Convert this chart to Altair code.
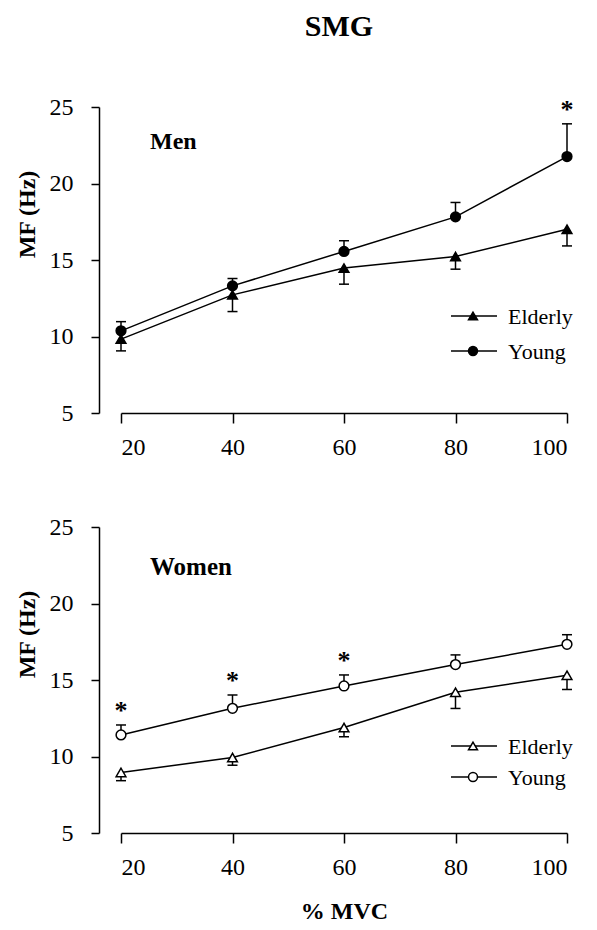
import altair as alt
import pandas as pd

# ---- data ----
mvc = [20, 40, 60, 80, 100]
groups = ["Elderly", "Young"]

men_elderly = [9.83, 12.72, 14.47, 15.23, 17.01]
men_elderly_err = [0.77, 1.09, 1.05, 0.83, 1.09]
men_young = [10.37, 13.31, 15.56, 17.82, 21.76]
men_young_err = [0.60, 0.48, 0.70, 0.94, 2.14]
men_sig = [False, False, False, False, True]

women_elderly = [8.96, 9.93, 11.89, 14.20, 15.31]
women_elderly_err = [0.54, 0.50, 0.60, 1.06, 0.93]
women_young = [11.41, 13.15, 14.61, 16.01, 17.33]
women_young_err = [0.65, 0.87, 0.72, 0.63, 0.63]
women_sig = [True, True, True, False, False]

y_ticks = [5, 10, 15, 20, 25]
panel_labels = ["Men", "Women"]

FONT = "Liberation Serif"
W, H = 446, 306
LW = 1.5


def panel(ey, ee, yy, ye, sig, label, fill, x_title):
    df = pd.DataFrame({
        "x": mvc + mvc,
        "group": [groups[0]] * 5 + [groups[1]] * 5,
        "y": ey + yy,
        "end": [v - e for v, e in zip(ey, ee)] + [v + e for v, e in zip(yy, ye)],
        "sig": [False] * 5 + sig,
    })
    xenc = alt.X("x:Q", scale=alt.Scale(domain=[20, 100], nice=False, zero=False),
                 axis=alt.Axis(values=mvc, title=x_title, tickSize=10, labelPadding=12,
                               titleFontSize=24, titleFont=FONT, titleFontWeight="bold",
                               titlePadding=20, titleColor="black"))
    yscale = alt.Scale(domain=[5, 25], nice=False, zero=False)
    yenc = alt.Y("y:Q", scale=yscale,
                 axis=alt.Axis(values=y_ticks, title="MF (Hz)", offset=22, tickSize=8,
                               labelPadding=18, titleFontSize=24, titleFont=FONT,
                               titleFontWeight="bold", titleColor="black",
                               titleX=-72, titleY=107, titleBaseline="middle"))
    base = alt.Chart(df)
    err = base.mark_rule(color="black", strokeWidth=LW).encode(
        x=xenc, y=yenc, y2="end:Q")
    cap = base.mark_tick(orient="horizontal", size=10, thickness=LW, color="black",
                         opacity=1).encode(x=xenc, y=alt.Y("end:Q", scale=yscale))
    line = base.mark_line(color="black", strokeWidth=LW).encode(
        x=xenc, y=yenc, detail="group:N")
    shape = alt.Shape("group:N", scale=alt.Scale(domain=groups,
                      range=["triangle-up", "circle"]), legend=None)
    pts = base.mark_point(filled=True, fill=fill, stroke="black", strokeWidth=LW,
                          size=95, opacity=1).encode(x=xenc, y=yenc, shape=shape)
    stars = base.transform_filter(alt.datum.sig).mark_text(
        text="*", font=FONT, fontSize=26, fontWeight="bold", dy=-6,
        baseline="alphabetic", color="black").encode(
        x=xenc, y=alt.Y("end:Q", scale=yscale))
    lab = alt.Chart(pd.DataFrame({"t": [label]})).mark_text(
        font=FONT, fontSize=24 if label == "Men" else 25, fontWeight="bold",
        align="left", baseline="alphabetic", color="black").encode(
        x=alt.value(29), y=alt.value(42 if label == "Men" else 48), text="t:N")

    # manual legend
    leg_layers = []
    y0 = 209 if label == "Men" else 219
    dy = 35 if label == "Men" else 31
    for i, g in enumerate(groups):
        ly = y0 + i * dy
        gdf = pd.DataFrame({"g": [g]})
        leg_layers.append(alt.Chart(gdf).mark_rule(color="black", strokeWidth=LW).encode(
            x=alt.value(330), x2=alt.value(376), y=alt.value(ly)))
        leg_layers.append(alt.Chart(gdf).mark_point(
            filled=True, fill=fill, stroke="black", strokeWidth=LW, size=80, opacity=1,
            shape=["triangle-up", "circle"][i]).encode(x=alt.value(352), y=alt.value(ly)))
        leg_layers.append(alt.Chart(gdf).mark_text(
            font=FONT, fontSize=22, align="left", baseline="middle", color="black").encode(
            x=alt.value(387), y=alt.value(ly + 1), text="g:N"))

    return alt.layer(err, cap, line, pts, stars, lab, *leg_layers).properties(
        width=W, height=H)


top = panel(men_elderly, men_elderly_err, men_young, men_young_err, men_sig,
            panel_labels[0], "black", None)
bottom = panel(women_elderly, women_elderly_err, women_young, women_young_err,
               women_sig, panel_labels[1], "white", "% MVC")

chart = alt.vconcat(top, bottom, spacing=56).properties(
    title=alt.TitleParams("SMG", font=FONT, fontSize=30, fontWeight="bold",
                          anchor="middle", color="black", offset=53, dx=44),
    padding={"left": 6, "top": 4, "right": 5, "bottom": 5},
    background="white",
).configure_view(stroke=None).configure_axis(
    grid=False, domainColor="black", domainWidth=LW, tickColor="black", tickWidth=LW,
    labelFont=FONT, labelFontSize=24, labelColor="black",
)

chart.save("out.html", embed_options={"renderer": "svg", "actions": False})
